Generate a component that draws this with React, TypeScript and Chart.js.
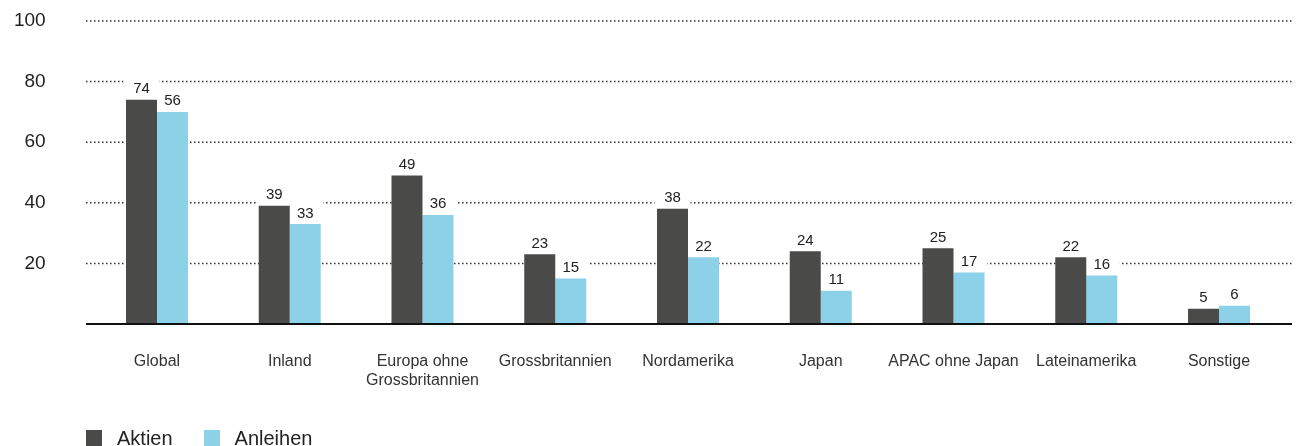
import React, { useEffect, useRef } from 'react';
import { Chart, registerables } from 'chart.js';

Chart.register(...registerables);

const categories: (string | string[])[] = [
  'Global',
  'Inland',
  ['Europa ohne', 'Grossbritannien'],
  'Grossbritannien',
  'Nordamerika',
  'Japan',
  'APAC ohne Japan',
  'Lateinamerika',
  'Sonstige',
];
const aktienValues = [74, 39, 49, 23, 38, 24, 25, 22, 5];
const anleihenValues = [70, 33, 36, 15, 22, 11, 17, 16, 6];
const aktienLabels = ['74', '39', '49', '23', '38', '24', '25', '22', '5'];
const anleihenLabels = ['56', '33', '36', '15', '22', '11', '17', '16', '6'];
const yTicks = [20, 40, 60, 80, 100];
const seriesNames = ['Aktien', 'Anleihen'];
const seriesColors = ['#4a4a49', '#8dd1e9'];

const FONT = "'Liberation Sans', Arial, sans-serif";
const W = 1298;
const H = 446;
const TARGET_TOP = 21;
const TARGET_BOTTOM = 324;

const barLabelSets = [aktienLabels, anleihenLabels];

const decor = {
  id: 'decor',
  beforeDatasetsDraw(chart: any) {
    const { ctx, chartArea, scales } = chart;
    const y = scales.y;
    ctx.save();
    ctx.strokeStyle = '#333333';
    ctx.lineWidth = 1.5;
    ctx.setLineDash([1.5, 2.5]);
    for (const t of yTicks) {
      const py = y.getPixelForValue(t);
      ctx.beginPath();
      ctx.moveTo(chartArea.left - 4.6, py);
      ctx.lineTo(chartArea.right + 6.6, py);
      ctx.stroke();
    }
    ctx.setLineDash([]);
    ctx.fillStyle = '#ffffff';
    chart.data.datasets.forEach((_ds: any, i: number) => {
      const meta = chart.getDatasetMeta(i);
      meta.data.forEach((bar: any) => {
        const { x, y: top, width } = bar.getProps(['x', 'y', 'width'], true);
        ctx.fillRect(x - width / 2 - 2.5, top - 22, width + 5, 22);
      });
    });
    ctx.restore();
  },
  afterDatasetsDraw(chart: any) {
    const { ctx, chartArea, scales } = chart;
    const y = scales.y;
    ctx.save();
    ctx.fillStyle = '#222222';
    ctx.font = `15px ${FONT}`;
    ctx.textAlign = 'center';
    ctx.textBaseline = 'alphabetic';
    chart.data.datasets.forEach((_ds: any, i: number) => {
      const meta = chart.getDatasetMeta(i);
      meta.data.forEach((bar: any, j: number) => {
        const { x, y: top } = bar.getProps(['x', 'y'], true);
        ctx.fillText(barLabelSets[i][j], x, top - 6.5);
      });
    });
    const py = y.getPixelForValue(0);
    ctx.strokeStyle = '#111111';
    ctx.lineWidth = 2;
    ctx.beginPath();
    ctx.moveTo(chartArea.left - 4.6, py);
    ctx.lineTo(chartArea.right + 6.6, py);
    ctx.stroke();
    ctx.restore();
  },
};

export default function App() {
  const ref = useRef<HTMLCanvasElement | null>(null);

  useEffect(() => {
    document.body.style.margin = '0';
    document.body.style.overflow = 'hidden';
    if (!ref.current) return;
    const chart = new Chart(ref.current, {
      type: 'bar',
      data: {
        labels: categories as any,
        datasets: [
          {
            label: seriesNames[0],
            data: aktienValues,
            backgroundColor: seriesColors[0],
            barPercentage: 1,
            categoryPercentage: 0.467,
          },
          {
            label: seriesNames[1],
            data: anleihenValues,
            backgroundColor: seriesColors[1],
            barPercentage: 1,
            categoryPercentage: 0.467,
          },
        ],
      },
      options: {
        animation: false,
        responsive: false,
        devicePixelRatio: 1,
        layout: { padding: { left: 0, right: 12.6, top: TARGET_TOP, bottom: 0 } },
        plugins: {
          legend: { display: false },
          tooltip: { enabled: false },
        },
        scales: {
          x: {
            grid: { display: false, drawTicks: false },
            border: { display: false },
            ticks: {
              color: '#333333',
              font: { family: FONT, size: 16 },
              padding: 28,
              maxRotation: 0,
              autoSkip: false,
            },
            afterFit: (s: any) => {
              s.height = H - TARGET_BOTTOM;
            },
          },
          y: {
            min: 0,
            max: 100,
            grid: { display: false, drawTicks: false },
            border: { display: false },
            ticks: {
              stepSize: 20,
              color: '#222222',
              font: { family: FONT, size: 19 },
              padding: 45,
              callback: (v: any) => (v === 0 ? '' : String(v)),
            },
            afterFit: (s: any) => {
              s.width = 90.6;
              s.paddingTop = 0;
              s.paddingBottom = 0;
            },
          },
        },
      },
      plugins: [decor],
    });
    return () => chart.destroy();
  }, []);

  return (
    <div style={{ position: 'relative', width: W, height: H, overflow: 'hidden' }}>
      <canvas ref={ref} width={W} height={H} style={{ width: W, height: H, display: 'block' }} />
      <div
        style={{
          position: 'absolute',
          left: 86,
          top: 428,
          height: 20,
          display: 'flex',
          alignItems: 'center',
          fontFamily: FONT,
          fontSize: 20,
          lineHeight: '20px',
          color: '#222222',
        }}
      >
        {seriesNames.map((name, i) => (
          <div key={name} style={{ display: 'flex', alignItems: 'center', marginRight: 31 }}>
            <span style={{ width: 16, height: 16, background: seriesColors[i], marginRight: 15, display: 'inline-block' }} />
            <span>{name}</span>
          </div>
        ))}
      </div>
    </div>
  );
}
